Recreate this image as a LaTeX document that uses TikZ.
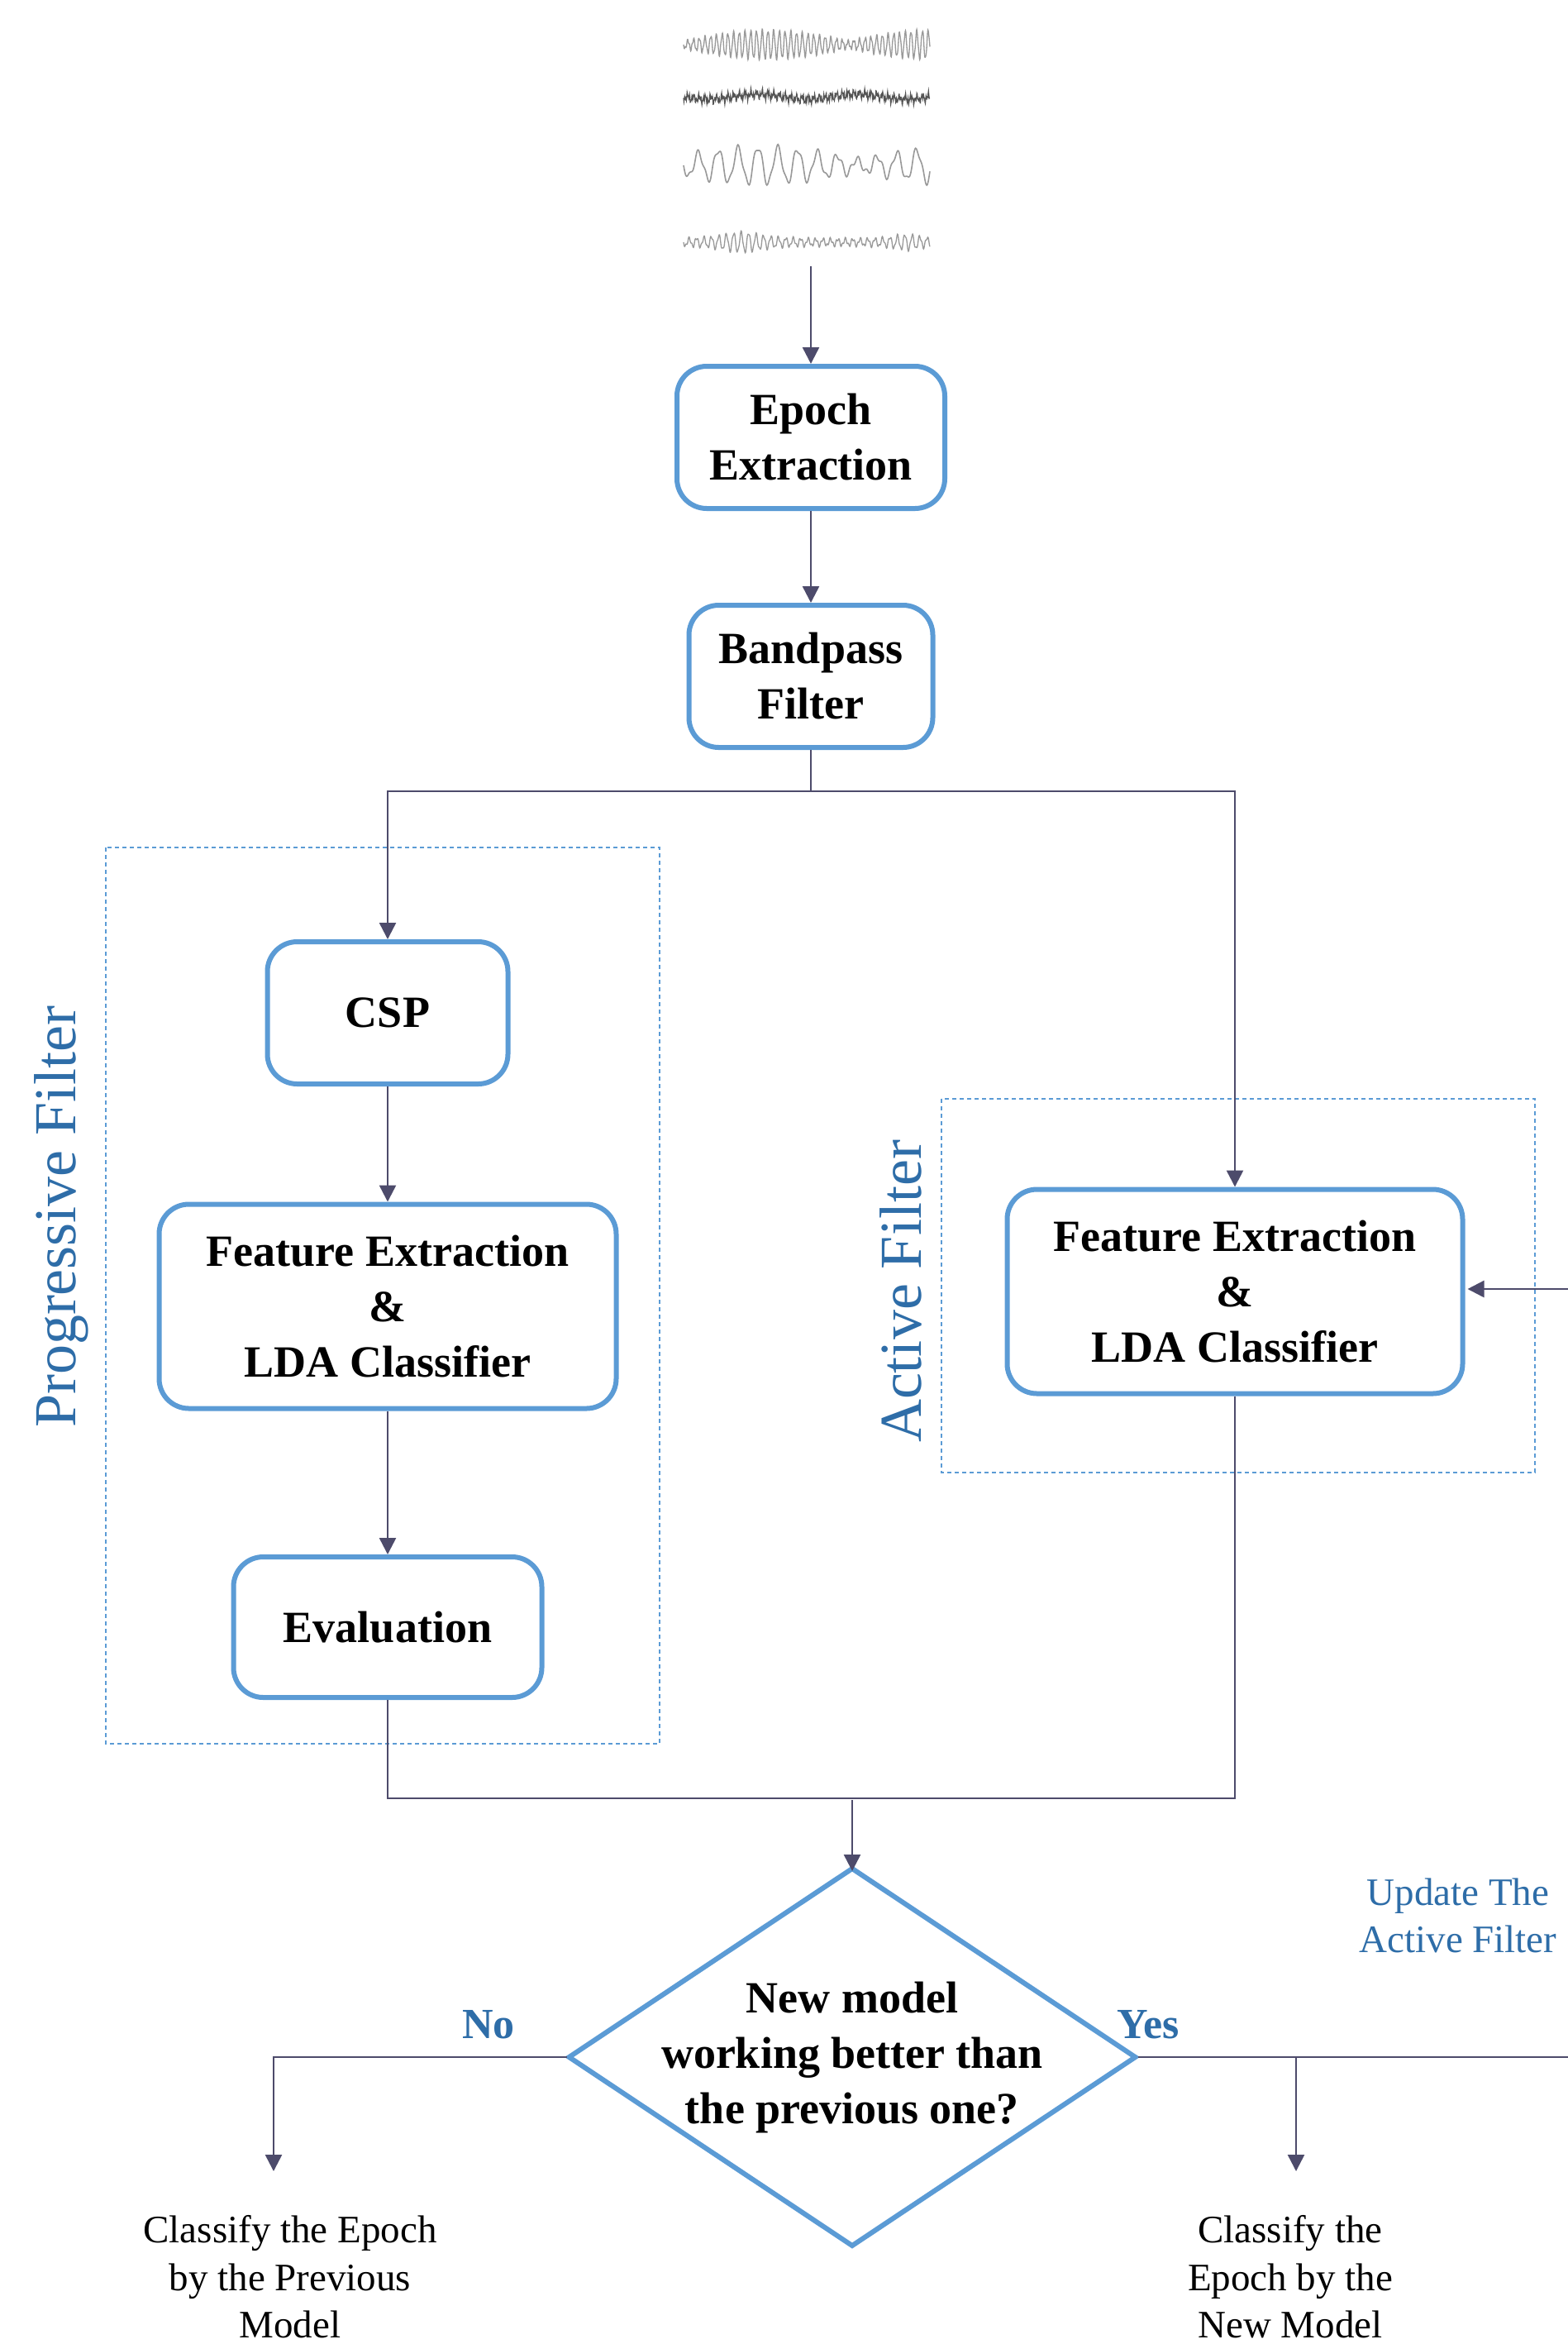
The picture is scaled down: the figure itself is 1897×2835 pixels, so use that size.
\documentclass[tikz,border=0pt]{standalone}
\usepackage{fontspec}
\setmainfont{Liberation Serif}
\usetikzlibrary{arrows.meta,shapes.geometric,calc}
\definecolor{boxblue}{HTML}{5B9BD5}
\definecolor{lbl}{HTML}{2E6DA8}
\definecolor{connc}{HTML}{4D4B6B}
\definecolor{sigl}{HTML}{999999}
\definecolor{sigd}{HTML}{555555}
\begin{document}
\begin{tikzpicture}[x=1pt,y=-1pt,
  procbox/.style={draw=boxblue, line width=6pt, rounded corners=36pt, align=center, fill=white,
    font=\fontsize{54}{67}\selectfont\bfseries, inner sep=0pt},
  conn/.style={draw=connc, line width=2.5pt},
  arr/.style={conn, -{Triangle[width=20pt,length=20pt]}},
  grp/.style={draw=boxblue, line width=2.5pt, dash pattern=on 5pt off 4pt},
  glabel/.style={text=lbl, font=\fontsize{72}{80}\selectfont, rotate=90, inner sep=0pt},
  yn/.style={text=lbl, font=\fontsize{52}{60}\selectfont\bfseries, inner sep=0pt},
  outtext/.style={align=center, font=\fontsize{47}{57.5}\selectfont, inner sep=0pt},
]
\useasboundingbox (0,0) rectangle (1897,2835);
\clip (0,0) rectangle (1897,2835);
\fill[white] (0,0) rectangle (1897,2835);

% EEG signals
\draw[sigl, line width=1.3pt, shift={(827,54)}] plot[domain=0:298, samples=900]
  (\x, {(4+13*abs(sin(\x*0.9)))*sin(\x*52)+2*sin(3*mod(\x*45,360))});
\draw[sigd, line width=1.3pt, shift={(827,117)}] plot[domain=0:298, samples=700]
  (\x, {3*sin(\x*52)+2.5*sin(3*mod(\x*43.6,360)+40)+2*sin(5*mod(\x*46.6,360))+3*sin(\x*3)});
\draw[sigl, line width=1.6pt, shift={(827,200)}] plot[domain=0:298, samples=400]
  (\x, {(7+15*abs(sin(\x*0.75+20)))*sin(\x*15)+4*sin(\x*37)});
\draw[sigl, line width=1.3pt, shift={(827,293)}] plot[domain=0:298, samples=700]
  (\x, {(3+9/(1+((\x-70)/30)^2)+6/(1+((\x-270)/20)^2))*sin(\x*40)+2*sin(2*mod(\x*48.5,360))});

% group boxes
\draw[grp] (128,1025) rectangle (798,2109);
\draw[grp] (1139,1329) rectangle (1857,1781);
\node[glabel] (pflabel) at (74,1472) {Progressive Filter};
\node[glabel] (aflabel) at (1090,1562) {Active Filter};

% process boxes
\node[procbox, minimum width=324pt, minimum height=172pt] (epoch) at (981,529) {Epoch\\Extraction};
\node[procbox, minimum width=295pt, minimum height=172pt] (band) at (981,818) {Bandpass\\Filter};
\node[procbox, minimum width=291pt, minimum height=172pt] (csp) at (469,1225) {CSP};
\node[procbox, minimum width=553pt, minimum height=247pt] (fe1) at (469,1580) {Feature Extraction\\\&\\LDA Classifier};
\node[procbox, minimum width=373pt, minimum height=170pt] (eval) at (469,1968) {Evaluation};
\node[procbox, minimum width=551pt, minimum height=247pt] (fe2) at (1494,1562) {Feature Extraction\\\&\\LDA Classifier};
\node[minimum width=685pt, minimum height=456pt, inner sep=0pt, outer sep=0pt,
  align=center, font=\fontsize{54}{67}\selectfont\bfseries] (dia) at (1031,2488)
  {New model\\working better than\\the previous one?};
\draw[draw=boxblue, line width=6pt, line join=miter] (dia.north) -- (dia.east) -- (dia.south) -- (dia.west) -- cycle;

% connectors
\coordinate (sigend) at (981,322);
\coordinate (split) at (981,957);
\coordinate (join) at (1031,2175);
\coordinate (noend) at (331,2626);
\coordinate (yesend) at (1568,2626);
\coordinate (yesedge) at (1910,2488);
\coordinate (fbedge) at (1910,1559);

\draw[arr] (sigend) -- (epoch.north);
\draw[arr] (epoch.south) -- (band.north);
\draw[conn] (band.south) -- (split);
\draw[arr] (split) -| (csp.north);
\draw[arr] (split) -| (fe2.north);
\draw[arr] (csp.south) -- (fe1.north);
\draw[arr] (fe1.south) -- (eval.north);
\draw[conn] (eval.south) |- (join);
\draw[conn] (fe2.south) |- (join);
\draw[arr] ([yshift=-2pt]join) -- ([yshift=-3pt]dia.north);
\draw[arr] ([xshift=-3pt]dia.west) -| (noend);
\draw[conn] ([xshift=3pt]dia.east) -- (yesedge);
\draw[arr] (dia.east -| yesend) -- (yesend);
\draw[arr] (fbedge) -- ([xshift=3pt]fe2.east |- fbedge);

% labels
\node[yn] (no) at (591,2449) {No};
\node[yn] (yes) at (1389,2449) {Yes};
\node[outtext, text=lbl] (upd) at (1764,2317) {Update The\\Active Filter};
\node[outtext] (prev) at (351,2754) {Classify the Epoch\\by the Previous\\Model};
\node[outtext] (new) at (1561,2754) {Classify the\\Epoch by the\\New Model};
\end{tikzpicture}
\end{document}
